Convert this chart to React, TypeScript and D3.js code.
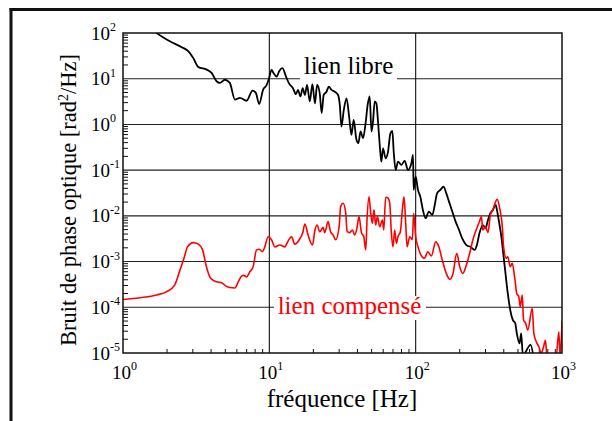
import React from "react";
import * as d3 from "d3";

const freqLibre = [1.5, 1.70, 2.09, 2.52, 2.79, 3.02, 3.27, 3.73, 4.03, 4.36, 4.59, 4.97, 5.37, 5.82, 6.29, 6.99, 7.68, 8.09, 8.52, 9.07, 9.57, 9.97, 10.35, 10.7, 11.2, 11.7, 12.3, 13.0, 13.6, 14.5, 15.2, 15.7, 16.3, 16.9, 17.5, 18.1, 18.9, 19.7, 20.5, 21.2, 22.1, 22.8, 23.5, 24.6, 25.5, 26.6, 28.0, 29.5, 30.3, 31.1, 32.3, 33.7, 35.1, 36.4, 37.7, 39.4, 40.6, 42.0, 43.7, 45.6, 47.0, 48.5, 49.9, 51.1, 52.5, 53.9, 55.3, 56.8, 58.3, 59.8, 62.4, 64.7, 67.2, 69.3, 70.8, 73.0, 75.7, 79.9, 84.1, 88.6, 93.5, 95.9, 96.9, 100, 103.7, 107.7, 112, 117, 123, 130, 135, 140, 147.5, 155, 162, 169, 178, 187.5, 198, 208, 222, 236, 253, 262, 273, 288, 300, 312, 324, 337, 352, 361, 371, 385, 399, 411, 426, 443, 461, 479, 491, 513, 526, 540, 610, 639];
const psdLibre = [140, 100, 66, 49, 40, 28.5, 18.1, 15.8, 13.4, 8.8, 8.1, 9.5, 8.1, 3.5, 3.8, 3.3, 5.5, 4.9, 2.8, 5.8, 7.2, 10.4, 15.6, 13.2, 11.1, 14.8, 17.0, 11.1, 8.0, 6.2, 4.6, 5.7, 4.1, 6.2, 4.4, 7.3, 3.2, 7.6, 2.9, 7.3, 4.8, 1.76, 4.4, 5.2, 6.7, 5.7, 5.2, 4.4, 2.7, 0.90, 2.1, 3.7, 1.48, 0.59, 1.25, 0.46, 0.39, 0.70, 0.50, 1.15, 2.7, 4.1, 0.70, 1.15, 3.2, 2.9, 1.15, 0.36, 0.153, 0.30, 0.18, 0.25, 0.64, 0.72, 0.25, 0.101, 0.153, 0.13, 0.159, 0.101, 0.142, 0.215, 0.037, 0.072, 0.037, 0.026, 0.0135, 0.0089, 0.0124, 0.0105, 0.0173, 0.031, 0.037, 0.0435, 0.031, 0.0205, 0.0124, 0.0075, 0.0049, 0.0032, 0.0023, 0.0021, 0.0018, 0.0023, 0.0042, 0.0063, 0.0054, 0.0081, 0.0114, 0.0135, 0.0173, 0.0124, 0.0075, 0.0035, 0.00128, 0.00055, 0.000203, 8.7e-5, 5.3e-5, 4.5e-5, 2.7e-5, 1.63e-5, 2.7e-5, 9e-6, 1.5e-5, 8e-6];

const freqComp = [1, 1.31, 1.70, 1.99, 2.26, 2.45, 2.61, 2.76, 3.02, 3.27, 3.50, 3.69, 3.97, 4.36, 4.72, 5.05, 5.37, 5.82, 6.13, 6.46, 6.70, 6.99, 7.36, 7.75, 8.18, 8.52, 8.99, 9.31, 9.82, 10.35, 10.9, 11.8, 12.8, 13.1, 14.2, 14.9, 16.2, 16.9, 17.5, 18.4, 19.7, 20.5, 21.2, 22.1, 23.3, 23.9, 25.2, 26.2, 27.3, 28.4, 30.0, 30.7, 31.9, 33.3, 34.0, 35.4, 37.0, 38.3, 39.7, 41.0, 42.6, 44.2, 45.6, 46.5, 48.0, 49.3, 50.6, 51.9, 53.3, 54.8, 56.8, 59.3, 60.5, 62.4, 64.7, 66.5, 68.2, 70.0, 71.9, 73.8, 75.7, 78.6, 81.1, 83.2, 85.5, 87.3, 91.1, 94.9, 96.9, 100, 103.7, 108.7, 115, 121, 128, 137, 144, 152, 162, 171, 180, 191, 200, 210, 222, 234, 246, 262, 273, 281, 288, 300, 312, 324, 337, 352, 361, 375, 391, 399, 416, 426, 443, 457, 474, 491, 507, 518, 535, 546, 564, 584, 626, 642, 667, 695, 721, 748, 771, 788, 865, 912, 951, 972, 1000];
const psdComp = [1.48e-4, 1.62e-4, 1.86e-4, 2.2e-4, 3.1e-4, 6.5e-4, 1.18e-3, 2.1e-3, 2.6e-3, 2.4e-3, 1.8e-3, 8.4e-4, 4.3e-4, 3.6e-4, 3.45e-4, 2.9e-4, 2.7e-4, 2.65e-4, 3.6e-4, 4.8e-4, 5e-4, 4.6e-4, 6.0e-4, 7.7e-4, 1.8e-3, 1.86e-3, 1.65e-3, 2.1e-3, 3.5e-3, 3.0e-3, 2.1e-3, 2.3e-3, 2.1e-3, 2.4e-3, 3.5e-3, 2.4e-3, 3.2e-3, 4.2e-3, 6.6e-3, 3.8e-3, 2.3e-3, 4.9e-3, 6.3e-3, 4.5e-3, 5.6e-3, 4.3e-3, 7.5e-3, 4.5e-3, 3.8e-3, 3.0e-3, 5.8e-3, 0.0159, 0.0189, 0.0114, 4.5e-3, 4.3e-3, 4.9e-3, 3.8e-3, 5.4e-3, 9.6e-3, 4.3e-3, 3.5e-3, 1.8e-3, 8.1e-3, 0.026, 0.0114, 6.9e-3, 0.0135, 6.3e-3, 9.6e-3, 5.8e-3, 8.1e-3, 4.9e-3, 0.0255, 0.0245, 0.0189, 4.3e-3, 2.1e-3, 4.9e-3, 2.5e-3, 3.5e-3, 4.5e-3, 0.0135, 0.026, 6.9e-3, 2.1e-3, 3.5e-3, 3.0e-3, 0.0114, 3.5e-3, 2.1e-3, 1.39e-3, 1.18e-3, 1.64e-3, 1.32e-3, 2.7e-3, 2.1e-3, 1.08e-3, 5.5e-4, 4.1e-4, 5.5e-4, 1.52e-3, 7.7e-4, 5.5e-4, 8.4e-4, 1.52e-3, 3.0e-3, 5.4e-3, 7.5e-3, 9.6e-3, 4.9e-3, 5.8e-3, 4.3e-3, 0.0105, 0.0135, 0.0205, 0.023, 0.0147, 5.8e-3, 2.1e-3, 1.18e-3, 1.27e-3, 7.7e-4, 9.2e-4, 4.7e-4, 2.0e-4, 1.7e-4, 1.03e-4, 1.86e-4, 5.3e-5, 4.5e-5, 3.2e-5, 9.5e-5, 2.7e-5, 1.77e-5, 1.37e-5, 9.8e-6, 1.37e-5, 1.9e-5, 9e-6, 8e-6, 8e-6, 2.9e-5, 8e-6, 5e-5];

const xDecades = [0, 1, 2, 3];
const yDecades = [-5, -4, -3, -2, -1, 0, 1, 2];
const labelLibre = "lien libre";
const labelComp = "lien compensé";
const xTitle = "fréquence [Hz]";

const W = 612, H = 421;
const L = 123, R = 562, T = 33, B = 353;
const FONT = "'Liberation Serif', 'Times New Roman', serif";

export default function App() {
  const x = d3.scaleLog().domain([1, 1000]).range([L, R]);
  const y = d3.scaleLog().domain([1e-5, 100]).range([B, T]);
  const line = d3.line<[number, number]>().x(d => x(d[0])).y(d => y(d[1])).curve(d3.curveMonotoneX);
  const libre = line(freqLibre.map((f, i) => [f, psdLibre[i]]) as [number, number][]) || "";
  const comp = line(freqComp.map((f, i) => [f, psdComp[i]]) as [number, number][]) || "";

  const minorY: number[] = [];
  yDecades.slice(0, -1).forEach(d => { for (let k = 2; k <= 9; k++) minorY.push(k * Math.pow(10, d)); });
  const minorX: number[] = [];
  xDecades.slice(0, -1).forEach(d => { for (let k = 2; k <= 9; k++) minorX.push(k * Math.pow(10, d)); });

  return (
    <svg width={W} height={H} style={{ position: "absolute", left: 0, top: 0, background: "#fff" }} fontFamily={FONT}>
      <defs>
        <clipPath id="plotclip"><rect x={L} y={T} width={R - L} height={B - T} /></clipPath>
      </defs>
      {/* outer frame */}
      <line x1={9.5} x2={W} y1={9.5} y2={9.5} stroke="#111" strokeWidth={3} />
      <line x1={11} x2={11} y1={8} y2={H} stroke="#111" strokeWidth={3} />

      {/* grid */}
      {yDecades.slice(1, -1).map(d => (
        <line key={"gy" + d} x1={L} x2={R} y1={y(Math.pow(10, d))} y2={y(Math.pow(10, d))} stroke="#222" strokeWidth={1.1} />
      ))}
      {xDecades.slice(1, -1).map(d => (
        <line key={"gx" + d} y1={T} y2={B} x1={x(Math.pow(10, d))} x2={x(Math.pow(10, d))} stroke="#111" strokeWidth={1.1} />
      ))}

      {/* minor ticks */}
      {minorY.map((v, i) => (
        <line key={"my" + i} x1={L} x2={L + 5} y1={y(v)} y2={y(v)} stroke="#111" strokeWidth={1} />
      ))}
      {minorX.map((v, i) => (
        <line key={"mx" + i} y1={B} y2={B - 4} x1={x(v)} x2={x(v)} stroke="#111" strokeWidth={1} />
      ))}

      {/* label backgrounds & labels */}
      <rect x={300} y={55} width={97} height={26} fill="#fff" />
      <text x={348.5} y={74} fontSize={25} textAnchor="middle" fill="#000">{labelLibre}</text>

      <g clipPath="url(#plotclip)">
        <path d={libre} fill="none" stroke="#000" strokeWidth={1.8} strokeLinejoin="round" />
        <path d={comp} fill="none" stroke="#ff0000" strokeWidth={1.6} strokeLinejoin="round" />
      </g>

      <rect x={274} y={296} width={152} height={24} fill="#fff" />
      <text x={349.5} y={314} fontSize={25} textAnchor="middle" fill="#ff0000">{labelComp}</text>

      {/* axes frame */}
      <rect x={L} y={T} width={R - L} height={B - T} fill="none" stroke="#111" strokeWidth={1.5} />

      {/* y tick labels */}
      {yDecades.map(d => (
        <g key={"yl" + d}>
          <text x={110} y={y(Math.pow(10, d)) + 6.5} fontSize={19} textAnchor="end">10</text>
          <text x={110} y={y(Math.pow(10, d)) - 2} fontSize={12} textAnchor="start">{String(d)}</text>
        </g>
      ))}
      {/* x tick labels */}
      {xDecades.map(d => (
        <g key={"xl" + d}>
          <text x={x(Math.pow(10, d)) - 1.5} y={379} fontSize={19} textAnchor="middle">10</text>
          <text x={x(Math.pow(10, d)) + 8} y={370} fontSize={12} textAnchor="start">{String(d)}</text>
        </g>
      ))}

      {/* axis titles */}
      <text x={342} y={407} fontSize={25} textAnchor="middle">{xTitle}</text>
      <text transform={`translate(76,200) rotate(-90)`} fontSize={22.5} textAnchor="middle">
        Bruit de phase optique [rad<tspan dy={-8} fontSize={14}>2</tspan><tspan dy={8}>/Hz]</tspan>
      </text>
    </svg>
  );
}
